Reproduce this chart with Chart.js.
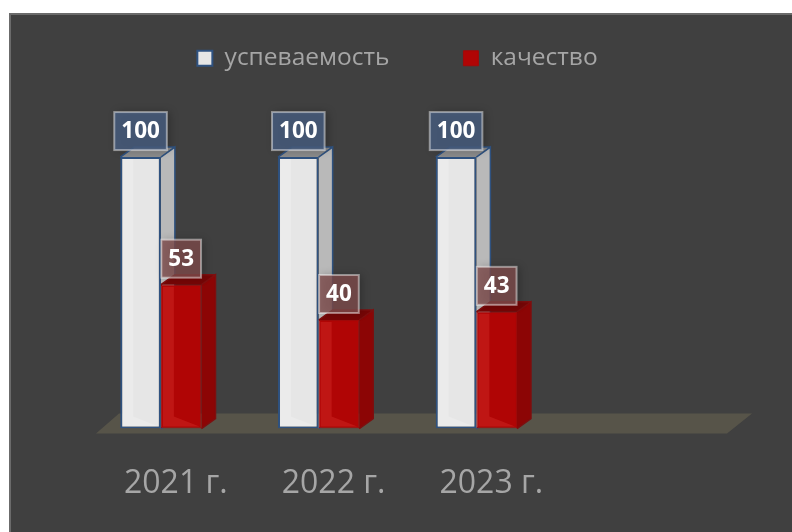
<!DOCTYPE html>
<html lang="ru">
<head>
    <meta charset="UTF-8">
    <title>успеваемость и качество</title>
    <script src="https://cdn.jsdelivr.net/npm/chart.js@4"></script>
    <style>
        html, body { margin: 0; background: #fff; overflow: hidden; }
        #wrap {
            position: absolute; left: 9px; top: 13px; width: 783px; height: 519px;
            background: #404040;
            box-shadow: inset 2px 2px 0 #6b6b6b;
        }
    </style>
</head>
<body>
<div id="wrap"><canvas id="myChart" width="783" height="519"></canvas></div>
<script>
    var categories = ['2021 г.', '2022 г.', '2023 г.', ''];
    var uspevaemost = [100, 100, 100, null];
    var kachestvo = [53, 40, 43, null];

    function poly(ctx, pts, fill) {
        ctx.beginPath();
        ctx.moveTo(pts[0][0], pts[0][1]);
        for (var i = 1; i < pts.length; i++) ctx.lineTo(pts[i][0], pts[i][1]);
        ctx.closePath();
        ctx.fillStyle = fill;
        ctx.fill();
    }

    // faces for each dataset: side, top, edge line, front bevel, label box, label border
    var faces = [
        { side: '#b9b9b9', top: '#8a8a8a', edge: '#2f5280', bevel: 'rgba(255,255,255,0.2)', box: 'rgba(70,92,125,0.85)', line: 'rgba(255,255,255,0.45)' },
        { side: '#8c0505', top: '#760606', edge: '#7e0f0f', bevel: 'rgba(255,90,80,0.2)', box: 'rgba(125,75,75,0.8)', line: 'rgba(255,255,255,0.45)' }
    ];

    var bars3d = {
        id: 'bars3d',
        beforeDatasetsDraw: function (chart) {
            var ctx = chart.ctx;
            var sx = chart.scales.x, y0 = chart.scales.y.getPixelForValue(0);
            // floor
            poly(ctx, [[sx.left + 14, y0 + 5], [sx.right + 14, y0 + 5], [sx.right + 39, y0 - 15], [sx.left + 37, y0 - 15]], '#575449');
            // side and top faces go under the front of the next bar
            chart.data.datasets.forEach(function (ds, d) {
                chart.getDatasetMeta(d).data.forEach(function (bar, i) {
                    if (ds.data[i] === null) return;
                    var l = bar.x - bar.width / 2, r = bar.x + bar.width / 2;
                    var f = faces[d];
                    poly(ctx, [[r, bar.y], [r + 14, bar.y - 10], [r + 14, bar.base - 10], [r, bar.base]], f.side);
                    poly(ctx, [[l, bar.y], [l + 14, bar.y - 10], [r + 14, bar.y - 10], [r, bar.y]], f.top);
                    ctx.strokeStyle = f.edge;
                    ctx.lineWidth = 1.5;
                    ctx.beginPath();
                    ctx.moveTo(r, bar.y);
                    ctx.lineTo(r + 14, bar.y - 10);
                    ctx.lineTo(r + 14, bar.base - 10);
                    ctx.lineTo(r, bar.base);
                    ctx.moveTo(l, bar.y);
                    ctx.lineTo(l + 14, bar.y - 10);
                    ctx.lineTo(r + 14, bar.y - 10);
                    ctx.stroke();
                });
            });
        },
        afterDatasetsDraw: function (chart) {
            var ctx = chart.ctx;
            chart.data.datasets.forEach(function (ds, d) {
                chart.getDatasetMeta(d).data.forEach(function (bar, i) {
                    if (ds.data[i] === null) return;
                    var l = bar.x - bar.width / 2, r = bar.x + bar.width / 2;
                    // bevel on the front face
                    poly(ctx, [[l + 2, bar.y + 2], [l + 13, bar.y + 2], [l + 13, bar.base - 12], [r - 2, bar.base - 2], [l + 2, bar.base - 2]], faces[d].bevel);
                });
            });
            ctx.font = 'bold 22.5px "Open Sans"';
            ctx.textAlign = 'center';
            ctx.textBaseline = 'middle';
            chart.data.datasets.forEach(function (ds, d) {
                chart.getDatasetMeta(d).data.forEach(function (bar, i) {
                    if (ds.data[i] === null) return;
                    var text = String(ds.data[i]);
                    var w = ctx.measureText(text).width + 14, h = 38;
                    var bx = bar.x - w / 2, by = bar.y - 7 - h;
                    ctx.save();
                    ctx.shadowColor = 'rgba(0,0,0,0.3)';
                    ctx.shadowBlur = 8;
                    ctx.shadowOffsetX = 3;
                    ctx.fillStyle = faces[d].box;
                    ctx.fillRect(bx, by, w, h);
                    ctx.restore();
                    ctx.strokeStyle = faces[d].line;
                    ctx.lineWidth = 2;
                    ctx.strokeRect(bx, by, w, h);
                    ctx.fillStyle = '#ffffff';
                    ctx.fillText(text, bar.x, by + h / 2 + 1);
                });
            });
        }
    };

    var chart = new Chart(document.getElementById('myChart').getContext('2d'), {
        type: 'bar',
        data: {
            labels: categories,
            datasets: [
                { label: 'успеваемость', data: uspevaemost, backgroundColor: '#e6e6e6', borderColor: '#2f5280', borderWidth: 2, borderSkipped: false },
                { label: 'качество', data: kachestvo, backgroundColor: '#b00505', borderColor: '#a00a0a', borderWidth: 1, borderSkipped: false }
            ]
        },
        options: {
            responsive: false,
            animation: false,
            layout: { padding: { top: -41, left: 73, right: 79, bottom: 1 } },
            plugins: {
                tooltip: { enabled: false },
                legend: {
                    position: 'top',
                    labels: {
                        color: '#a6a6a6',
                        font: { family: '"Open Sans"', size: 24.5 },
                        boxWidth: 15,
                        boxHeight: 15,
                        padding: 74
                    }
                }
            },
            scales: {
                x: {
                    grid: { display: false },
                    border: { display: false },
                    ticks: { color: '#a6a6a6', font: { family: '"Open Sans"', size: 32 }, padding: 28, maxRotation: 0, labelOffset: 15 }
                },
                y: { display: false, min: 0, max: 128.2 }
            },
            datasets: { bar: { categoryPercentage: 0.515, barPercentage: 1 } }
        },
        plugins: [bars3d]
    });
</script>
</body>
</html>
